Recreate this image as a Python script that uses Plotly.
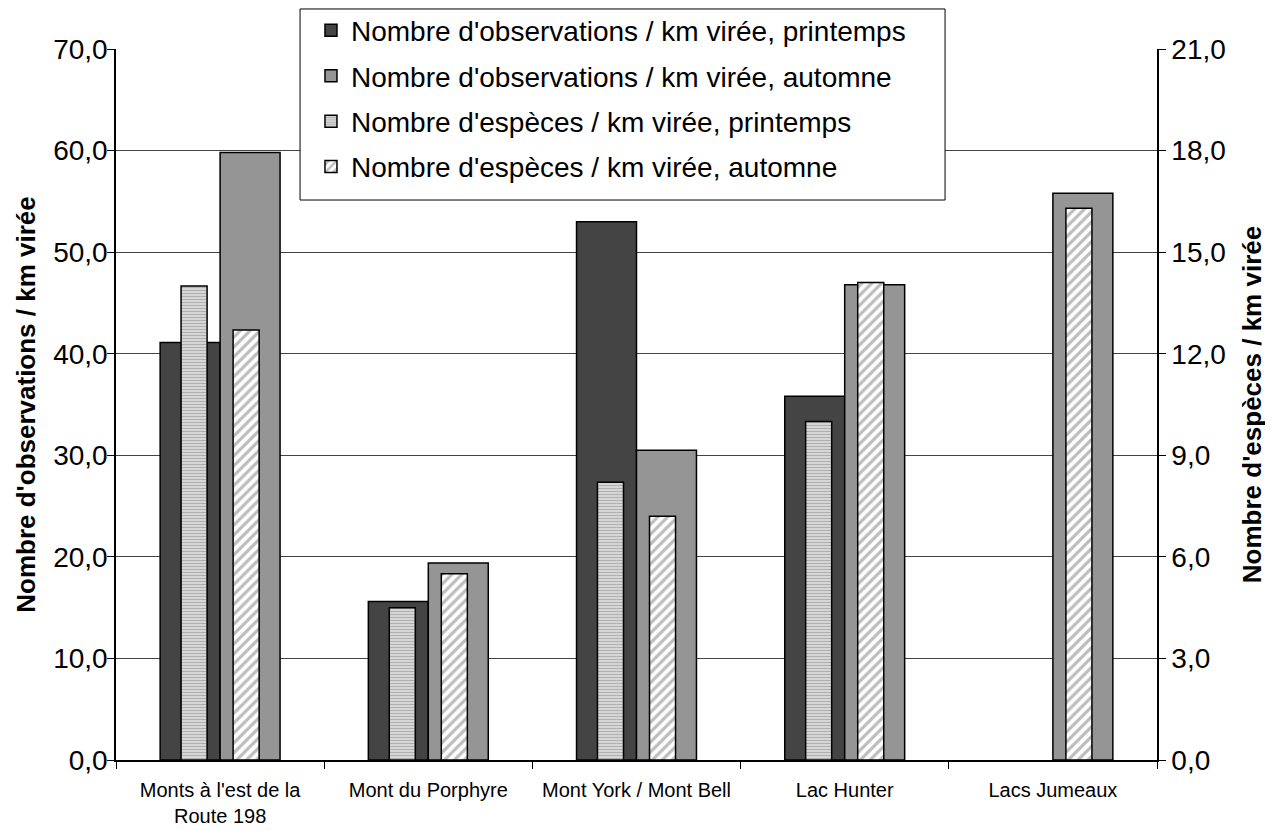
import plotly.graph_objects as go

categories = ["Monts à l'est de la<br>Route 198", "Mont du Porphyre", "Mont York / Mont Bell",
              "Lac Hunter", "Lacs Jumeaux"]
obs_printemps = [41.1, 15.6, 53.0, 35.8, None]
obs_automne = [59.8, 19.4, 30.5, 46.8, 55.8]
esp_printemps = [14.0, 4.5, 8.2, 10.0, None]
esp_automne = [12.7, 5.5, 7.2, 14.1, 16.3]

names = ["Nombre d'observations / km virée, printemps",
         "Nombre d'observations / km virée, automne",
         "Nombre d'espèces / km virée, printemps",
         "Nombre d'espèces / km virée, automne"]

left_ticks = [0, 10, 20, 30, 40, 50, 60, 70]
right_ticks = [0, 3, 6, 9, 12, 15, 18, 21]

FONT = "Liberation Sans, Arial, sans-serif"
line = dict(color="black", width=1.5)

fig = go.Figure()
fig.add_trace(go.Bar(x=categories, y=obs_printemps, name=names[0], legendgroup="a",
                     offset=-0.288, width=0.288,
                     marker=dict(color="#444444", line=line)))
fig.add_trace(go.Bar(x=categories, y=obs_automne, name=names[1], legendgroup="b",
                     offset=0.0, width=0.288,
                     marker=dict(color="#959595", line=line)))
fig.add_trace(go.Bar(x=categories, y=esp_printemps, name=names[2], legendgroup="c",
                     offset=-0.1875, width=0.125, yaxis="y2",
                     marker=dict(color="#d2d2d2", line=line,
                                 pattern=dict(shape="-", fgcolor="#8a8a8a", bgcolor="#d6d6d6",
                                              size=3, solidity=0.35))))
fig.add_trace(go.Bar(x=categories, y=esp_automne, name=names[3], legendgroup="d",
                     offset=0.0625, width=0.125, yaxis="y2",
                     marker=dict(color="white", line=line,
                                 pattern=dict(shape="/", fgcolor="#7a7a7a", bgcolor="white",
                                              size=7, solidity=0.45))))

# legend frame (drawn as a white box over the plot, legend sits on top of it)
fig.add_shape(type="rect", xref="paper", yref="paper",
              x0=0.1768, x1=0.7964, y0=0.7876, y1=1.0563,
              fillcolor="white", line=dict(color="black", width=1), layer="above")

fig.update_layout(
    width=1265, height=823,
    margin=dict(l=108, r=116, t=41, b=71, autoexpand=False),
    paper_bgcolor="white", plot_bgcolor="white",
    barmode="overlay",
    separators=", ",
    font=dict(family=FONT, color="black"),
    showlegend=True,
    legend=dict(x=0.1873, y=1.061, xanchor="left", yanchor="top",
                bgcolor="rgba(0,0,0,0)", borderwidth=0,
                font=dict(size=28, family=FONT), tracegroupgap=6,
                itemwidth=30),
    xaxis=dict(showline=True, linecolor="black", linewidth=1.5,
               ticks="outside", tickson="boundaries", ticklen=7, tickcolor="black",
               tickfont=dict(size=20, family=FONT), showgrid=False,
               ticklabelstandoff=11, automargin=False),
    yaxis=dict(range=[0, 70], tickvals=left_ticks, tickformat=".1f",
               showline=True, linecolor="black", linewidth=1.5,
               ticks="outside", ticklen=7, tickcolor="black",
               tickfont=dict(size=28, family=FONT), automargin=False,
               ticklabelstandoff=-6,
               gridcolor="#444444", gridwidth=1, zeroline=False,
               title=dict(text="<b>Nombre d'observations / km virée</b>",
                          font=dict(size=26, family=FONT), standoff=10)),
    yaxis2=dict(range=[0, 21], tickvals=right_ticks, tickformat=".1f",
                overlaying="y", side="right", automargin=False,
                showline=True, linecolor="black", linewidth=1.5,
                ticks="outside", ticklen=7, tickcolor="black",
                tickfont=dict(size=28, family=FONT), showgrid=False, zeroline=False,
                title=dict(text="<b>Nombre d'espèces / km virée</b>",
                           font=dict(size=26, family=FONT), standoff=18)),
)

fig.write_html("out.html")
